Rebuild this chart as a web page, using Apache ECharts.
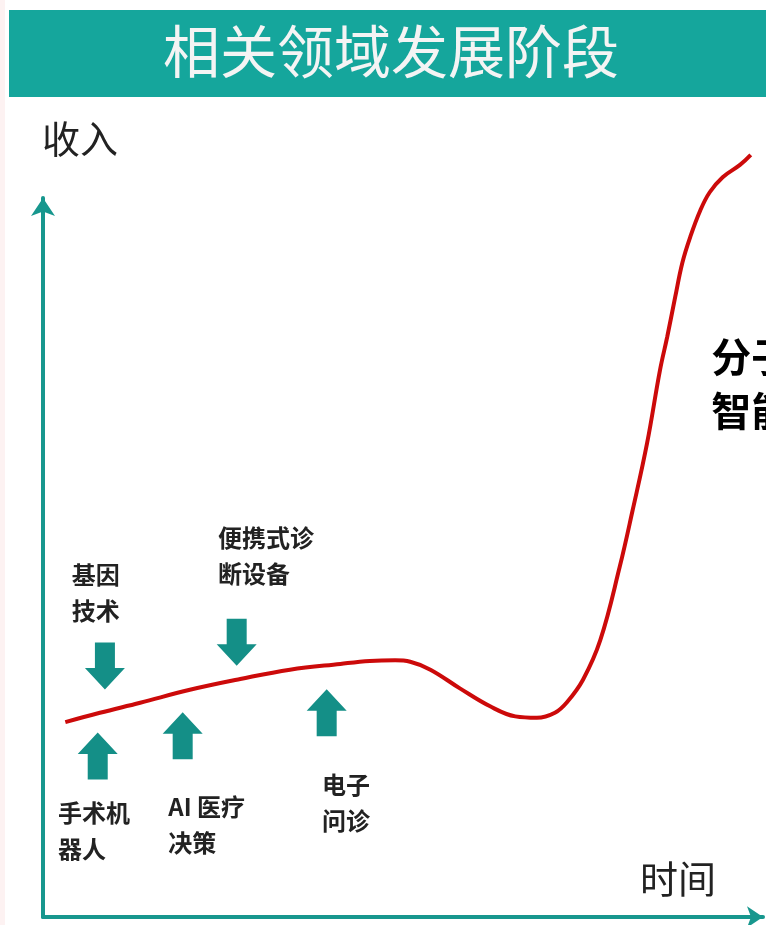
<!DOCTYPE html>
<html>
<head>
<meta charset="utf-8">
<script src="https://cdn.jsdelivr.net/npm/echarts@6/dist/echarts.min.js"></script>
<style>
html,body{margin:0;padding:0;background:#fff;}
#chart{width:766px;height:925px;}
</style>
</head>
<body>
<div id="chart"></div>
<script>
// ---- data ----
const titleText = '相关领域发展阶段';
const yName = '收入';
const xName = '时间';
// revenue curve over time (x: time 0-100, y: revenue 0-100)
const curveTime = [3.1, 7.9, 13.5, 20.4, 27.4, 34.3, 41.3, 45.4, 48.9, 51.0, 53.8, 57.9, 62.1, 65.6, 68.6, 71.1, 72.8, 75.0, 77.4, 80.1, 81.9, 83.9, 85.7, 86.7, 87.8, 88.8, 89.9, 91.3, 92.6, 94.4, 96.8, 98.3];
const curveRevenue = [27.1, 28.4, 29.8, 31.6, 33.1, 34.4, 35.2, 35.6, 35.7, 35.5, 34.4, 31.8, 29.3, 27.9, 27.7, 28.4, 29.9, 33.0, 38.5, 48.7, 56.6, 65.9, 76.1, 80.7, 86.2, 91.0, 94.6, 98.3, 100.8, 102.9, 104.6, 106.0];
// annotation arrows
const fieldNames = ['基因\n技术', '便携式诊\n断设备', '手术机\n器人', 'AI 医疗\n决策', '电子\n问诊'];
const arrowDir = ['down', 'down', 'up', 'up', 'up'];
const arrowTime = [8.6, 26.9, 7.6, 19.4, 39.4];
const arrowRevenue = [34.9, 38.2, 22.4, 25.2, 28.4];
const labelTime = [4.0, 24.3, 2.1, 17.4, 38.75];
const labelRevenue = [50.1, 55.2, 17.0, 17.8, 20.9];
const sideText = '分子诊断\n智能医疗';
const sideTime = 92.8;
const sideRevenue = 81.6;

// ---- chart ----
const chart = echarts.init(document.getElementById('chart'), null, {renderer: 'canvas'});
const teal = '#17978e';
const font = '"Noto Sans CJK SC", "Noto Sans", sans-serif';
const upPath = 'path://M10,0 L20,11 L15,11 L15,24 L5,24 L5,11 L0,11 Z';

const curveData = curveTime.map((t, i) => [t, curveRevenue[i]]);
const arrowData = arrowTime.map((t, i) => ({
  value: [t, arrowRevenue[i]],
  symbolRotate: arrowDir[i] === 'down' ? 180 : 0
}));
const labelData = labelTime.map((t, i) => ({value: [t, labelRevenue[i]], name: fieldNames[i]}));

chart.setOption({
  animation: false,
  backgroundColor: '#ffffff',
  grid: {left: 43, right: 3, top: 198, bottom: 8, containLabel: false},
  xAxis: {
    type: 'value', min: 0, max: 100,
    axisLine: {show: true, symbol: ['none', 'arrow'], symbolSize: [16, 16], lineStyle: {color: teal, width: 4}},
    axisTick: {show: false}, axisLabel: {show: false}, splitLine: {show: false}
  },
  yAxis: {
    type: 'value', min: 0, max: 100,
    axisLine: {show: true, symbol: ['none', 'arrow'], symbolSize: [18, 18], lineStyle: {color: teal, width: 4}},
    axisTick: {show: false}, axisLabel: {show: false}, splitLine: {show: false}
  },
  graphic: [
    {type: 'rect', left: 0, top: 0, shape: {width: 5, height: 925}, style: {fill: '#fdf2f2'}, silent: true},
    {type: 'rect', left: 9, top: 10, shape: {width: 757, height: 87}, style: {fill: '#15a69c'}, silent: true},
    {type: 'text', left: 163, top: 23, style: {text: titleText, fill: '#f4f4f4', font: '57px ' + font}, silent: true},
    {type: 'text', left: 42, top: 120, style: {text: yName, fill: '#222222', font: '38px ' + font}, silent: true},
    {type: 'text', left: 640, top: 860, style: {text: xName, fill: '#222222', font: '38px ' + font}, silent: true}
  ],
  series: [
    {
      type: 'line', data: curveData, smooth: 0.4, showSymbol: false, clip: false,
      lineStyle: {color: '#cc0a0a', width: 4}, z: 3
    },
    {
      type: 'scatter', data: arrowData, symbol: upPath, symbolSize: [40, 47], symbolKeepAspect: false,
      itemStyle: {color: '#148f87', opacity: 1}, z: 2
    },
    {
      type: 'scatter', data: labelData, symbolSize: 0, clip: false, itemStyle: {opacity: 1},
      label: {
        show: true, position: 'inside', formatter: p => p.name,
        align: 'left', verticalAlign: 'top', lineHeight: 36,
        fontSize: 24, fontWeight: 'bold', color: '#222222', fontFamily: font
      }, z: 4
    },
    {
      type: 'scatter', data: [{value: [sideTime, sideRevenue], name: sideText}], symbolSize: 0, clip: false,
      itemStyle: {opacity: 1},
      label: {
        show: true, position: 'inside', formatter: p => p.name,
        align: 'left', verticalAlign: 'top', lineHeight: 54,
        fontSize: 40, fontWeight: 'bold', color: '#000000', fontFamily: font
      }, z: 4
    }
  ]
});
</script>
</body>
</html>
